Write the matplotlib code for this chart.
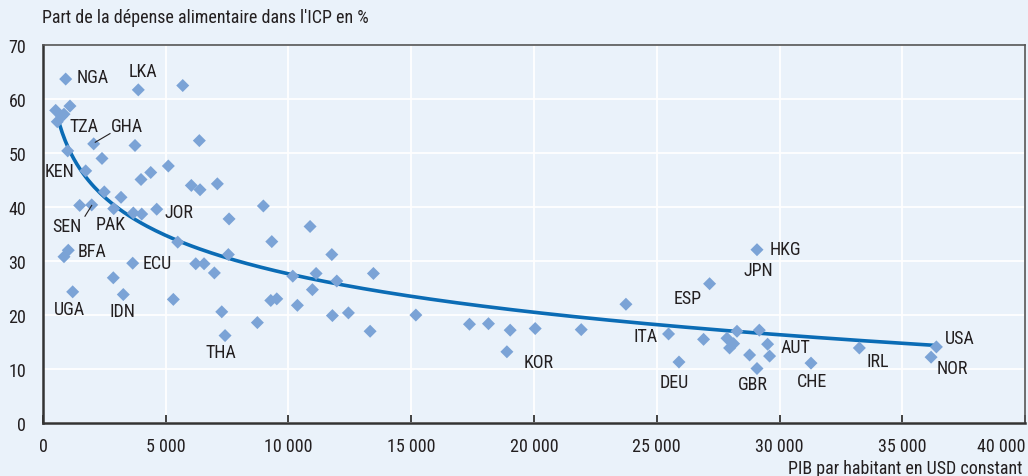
import numpy as np
import matplotlib
matplotlib.use("Agg")
import matplotlib.pyplot as plt
from matplotlib.ticker import FuncFormatter

plt.rcParams['font.family'] = ['Roboto Condensed', 'DejaVu Sans']

# PIB par habitant (USD constant) et part alimentaire (%)
pib = [925, 1100, 518, 762, 583, 856, 3883, 5693, 2066, 3749, 6369, 1007, 2404,
       5106, 1740, 4389, 3994, 6043, 6398, 7103, 2498, 3179, 1496, 1985, 2881,
       3680, 4022, 4633, 8977, 7580, 10880, 1031, 856, 1210, 5489, 9320, 3655,
       2865, 3272, 6223, 6561, 7551, 6981, 5310, 7282, 7417, 8733, 9279, 9523,
       10175, 10363, 11125, 10974, 11765, 11968, 11789, 12441, 13460, 13325,
       15188, 17372, 18146, 19030, 18896, 20049, 21924, 23745, 27152, 29083,
       25481, 25905, 26907, 27861, 28268, 28130, 27967, 28782, 29083, 29177,
       29515, 29596, 31283, 33252, 36390, 36174]
part = [63.7, 58.7, 57.9, 56.8, 55.8, 57.2, 61.7, 62.5, 51.7, 51.4, 52.3, 50.4, 49.0,
        47.6, 46.7, 46.4, 45.1, 44.0, 43.2, 44.3, 42.8, 41.8, 40.3, 40.4, 39.7,
        38.9, 38.7, 39.6, 40.2, 37.8, 36.4, 32.0, 30.8, 24.3, 33.5, 33.6, 29.6,
        26.9, 23.8, 29.5, 29.5, 31.2, 27.8, 22.9, 20.6, 16.2, 18.6, 22.7, 23.0,
        27.2, 21.8, 27.7, 24.7, 31.2, 26.3, 19.9, 20.4, 27.7, 17.0,
        20.0, 18.3, 18.4, 17.2, 13.2, 17.5, 17.3, 22.0, 25.8, 32.1,
        16.5, 11.3, 15.5, 15.7, 17.0, 14.7, 13.9, 12.6, 10.1, 17.2,
        14.6, 12.4, 11.1, 13.9, 14.1, 12.2]

# etiquettes des pays (texte, x gauche, y centre)
etiquettes = [("NGA", 1386, 64.1), ("LKA", 3505, 65.2), ("TZA", 1060, 55.0),
              ("GHA", 2771, 55.0), ("KEN", 81, 46.7), ("SEN", 367, 36.5),
              ("PAK", 2160, 36.9), ("JOR", 4931, 39.1), ("BFA", 1426, 31.9),
              ("ECU", 4075, 29.6), ("UGA", 448, 21.1), ("IDN", 2690, 20.7),
              ("THA", 6601, 13.1), ("KOR", 19560, 11.3), ("HKG", 29585, 32.2),
              ("JPN", 28525, 28.3), ("ESP", 25670, 23.1), ("ITA", 24040, 16.1),
              ("DEU", 25100, 7.6), ("GBR", 28320, 7.2), ("AUT", 30030, 14.1),
              ("CHE", 30720, 7.8), ("IRL", 33530, 11.5), ("USA", 36750, 15.7),
              ("NOR", 36390, 10.2)]

fond = '#eaf2fa'
fig = plt.figure(figsize=(10.28, 4.77), dpi=100, facecolor=fond)
ax = fig.add_axes([0.0418, 0.111, 0.9553, 0.7925], facecolor=fond)

# courbe de tendance logarithmique
x = np.array(pib, dtype=float)
y = np.array(part)
b, a = np.polyfit(np.log(x), y, 1)
xs = np.linspace(664, 36270, 300)
ax.plot(xs, a + b * np.log(xs), color='#0b6cb5', lw=2.6, zorder=3)

ax.scatter(x, y, marker='D', s=44, color='#7ba3d6', edgecolors='none', zorder=4)

for txt, tx, ty in etiquettes:
    ax.text(tx, ty, txt, ha='left', va='center', fontsize=13, color='#231f20', zorder=5)
# traits de rappel
ax.plot([2130, 2730], [52.0, 53.6], color='#231f20', lw=0.8, zorder=5)
ax.plot([1711, 1985], [38.3, 40.3], color='#231f20', lw=0.8, zorder=5)

ax.set_xlim(0, 40000)
ax.set_ylim(0, 70)
ax.set_xticks(np.arange(0, 40001, 5000))
ax.set_yticks(np.arange(0, 71, 10))
ax.xaxis.set_major_formatter(FuncFormatter(lambda v, p: f"{int(v):,}".replace(",", " ")))
ax.grid(True, color='white', lw=1.3, zorder=0)
ax.set_axisbelow(True)
ax.tick_params(axis='x', direction='in', length=6, width=1.3, color='#333333',
               labelsize=13, labelcolor='#231f20', pad=10)
ax.tick_params(axis='y', length=0, labelsize=13, labelcolor='#231f20', pad=12)
# le dernier libelle est cale a droite
ax.xaxis.get_major_ticks()[-1].label1.set_horizontalalignment('right')
for s in ['left', 'bottom']:
    ax.spines[s].set_color('#333333')
    ax.spines[s].set_linewidth(1.8)
for s in ['top', 'right']:
    ax.spines[s].set_color('#555555')
    ax.spines[s].set_linewidth(1.2)

fig.text(0.041, 0.962, "Part de la dépense alimentaire dans l'ICP en %", ha='left', va='center',
         fontsize=13, color='#231f20')
fig.text(0.995, 0.016, "PIB par habitant en USD constant", ha='right', va='center',
         fontsize=13, color='#231f20')

fig.savefig('out.png', dpi=100, facecolor=fond)
